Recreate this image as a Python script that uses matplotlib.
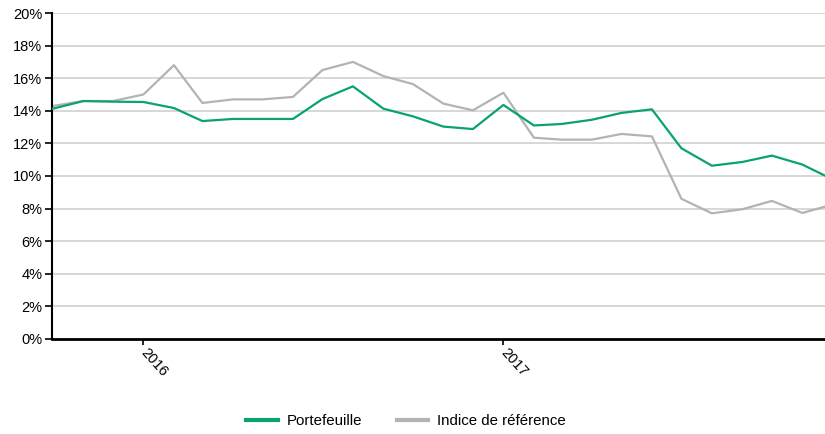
import matplotlib.pyplot as plt
import matplotlib.dates as mdates
import pandas as pd
from matplotlib.ticker import FuncFormatter

plt.rcParams['font.family'] = ['Liberation Sans', 'DejaVu Sans']

# dates mensuelles (dernier point partiel)
dates = list(pd.date_range('2015-10-01', '2017-11-01', freq='MS')) + [pd.Timestamp('2017-11-24')]

portefeuille = [14.13, 14.6, 14.56, 14.54, 14.17, 13.37, 13.5, 13.5, 13.5, 14.72,
                15.5, 14.13, 13.66, 13.03, 12.88, 14.36, 13.1, 13.19, 13.45, 13.87,
                14.09, 11.7, 10.63, 10.86, 11.25, 10.7, 10.02]
indice = [14.3, 14.6, 14.6, 15.0, 16.8, 14.48, 14.7, 14.7, 14.85, 16.5,
          17.0, 16.13, 15.64, 14.44, 14.03, 15.11, 12.35, 12.23, 12.23, 12.58,
          12.43, 8.6, 7.71, 7.96, 8.47, 7.73, 8.12]

green = '#0aa36e'
grey = '#b3b3b3'

fig = plt.figure(figsize=(8.25, 4.34), dpi=100)
ax = fig.add_axes([0.063, 0.219, 0.937, 0.751])

ax.plot(dates, portefeuille, color=green, lw=1.6, label='Portefeuille', zorder=3)
ax.plot(dates, indice, color=grey, lw=1.6, label='Indice de référence', zorder=2)

ax.set_ylim(0, 20)
ax.set_yticks(range(0, 21, 2))
ax.yaxis.set_major_formatter(FuncFormatter(lambda v, p: f'{v:.0f}%'))
ax.set_xlim(dates[0] - pd.Timedelta(days=1), dates[-1])
ax.xaxis.set_major_locator(mdates.YearLocator())
ax.xaxis.set_major_formatter(mdates.DateFormatter('%Y'))

ax.grid(axis='y', color='#d4d4d4', lw=1.3)
ax.set_axisbelow(True)
for s in ['top', 'right']:
    ax.spines[s].set_visible(False)
ax.spines['left'].set_linewidth(1.5)
ax.spines['bottom'].set_linewidth(2)
ax.tick_params(axis='y', length=5, width=1.2, pad=2, labelsize=10.5)
ax.tick_params(axis='x', length=4, width=1.2, pad=4, labelsize=10.5)
for lbl in ax.get_xticklabels():
    lbl.set_rotation(-48)
    lbl.set_rotation_mode('anchor')
    lbl.set_ha('left')
    lbl.set_va('center')

fig.legend(loc='center', bbox_to_anchor=(0.492, 0.03), ncol=2, frameon=False,
           fontsize=10.8, handlelength=2.1, columnspacing=2.3, handletextpad=0.6)
for h in fig.legends[0].get_lines():
    h.set_linewidth(3)

fig.savefig('out.png', dpi=100)
